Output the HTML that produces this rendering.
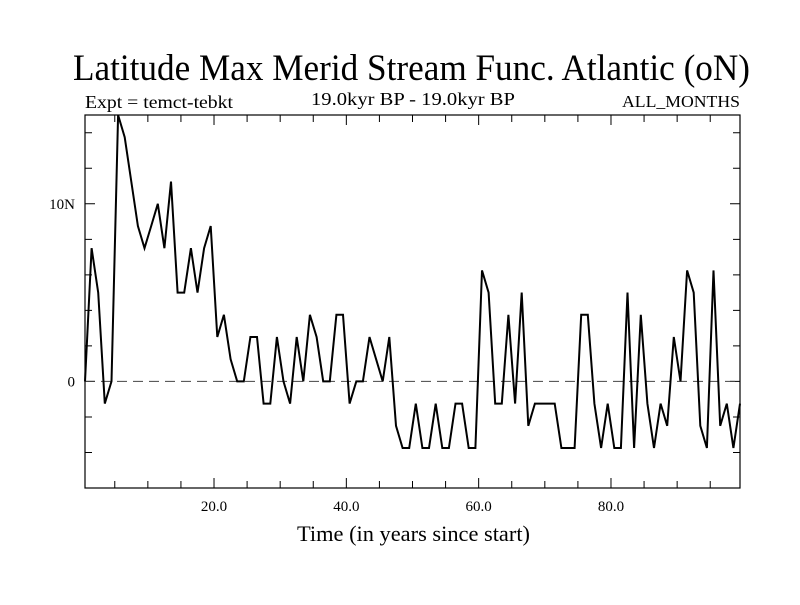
<!DOCTYPE html>
<html><head><meta charset="utf-8"><style>
body{margin:0;background:#fff}
svg text{font-family:"Liberation Serif",serif;fill:#000}
</style></head><body>
<svg id="chart" width="800" height="600" xmlns="http://www.w3.org/2000/svg">
<rect width="800" height="600" fill="#fff"/>
<text x="73" y="80" font-size="37" textLength="677" lengthAdjust="spacingAndGlyphs">Latitude Max Merid Stream Func. Atlantic (oN)</text>
<text x="85" y="108" font-size="18" textLength="148" lengthAdjust="spacingAndGlyphs">Expt = temct-tebkt</text>
<text x="311" y="105" font-size="18" textLength="204" lengthAdjust="spacingAndGlyphs">19.0kyr BP - 19.0kyr BP</text>
<text x="622" y="107" font-size="17" textLength="118" lengthAdjust="spacingAndGlyphs">ALL_MONTHS</text>
<text x="297" y="541" font-size="22" textLength="233" lengthAdjust="spacingAndGlyphs">Time (in years since start)</text>
<g id="axes"></g>
<g id="series"></g>
</svg>
<script>
const values = [0,7.5,5,-1.25,0,15,13.75,11.25,8.75,7.5,8.75,10,7.5,11.25,5,5,7.5,5,7.5,8.75,
2.5,3.75,1.25,0,0,2.5,2.5,-1.25,-1.25,2.5,0,-1.25,2.5,0,
3.75,2.5,0,0,3.75,3.75,-1.25,0,0,2.5,1.25,0,2.5,-2.5,-3.75,-3.75,-1.25,-3.75,-3.75,-1.25,-3.75,-3.75,-1.25,-1.25,-3.75,-3.75,6.25,5,-1.25,-1.25,3.75,-1.25,
5,-2.5,-1.25,-1.25,-1.25,-1.25,-3.75,-3.75,-3.75,3.75,3.75,-1.25,-3.75,-1.25,-3.75,-3.75,5,-3.75,3.75,-1.25,-3.75,-1.25,-2.5,2.5,0,6.25,5,-2.5,-3.75,6.25,-2.5,-1.25,-3.75,-1.25];
const xMajorTicks = [20,40,60,80];
const xMajorLabels = ["20.0","40.0","60.0","80.0"];
const yTicks = [-4,-2,0,2,4,6,8,10,12,14];
const yLabelValues = [0,10];
const yLabels = ["0","10N"];
const xDomain = [0.5,99.5], yDomain = [-6,15];
const L=85,R=740,T=115,B=488;
const xs = v => L + (v-xDomain[0])/(xDomain[1]-xDomain[0])*(R-L);
const ys = v => B - (v-yDomain[0])/(yDomain[1]-yDomain[0])*(B-T);
const NS="http://www.w3.org/2000/svg";
const axes=document.getElementById('axes'), series=document.getElementById('series');
function mk(tag,attrs,parent){const e=document.createElementNS(NS,tag);for(const k in attrs)e.setAttribute(k,attrs[k]);parent.appendChild(e);return e;}
const frame=mk('rect',{x:L,y:T,width:R-L,height:B-T,fill:'none',stroke:'#000','stroke-width':1.2},axes);


for(let t=5;t<100;t+=5){
  const major = xMajorTicks.includes(t);
  const len = major?10:7;
  const tk=mk('path',{d:`M${xs(t)},${B}V${B-len}M${xs(t)},${T}V${T+len}`,stroke:'#000','stroke-width':1},axes);
  
  
}
xMajorTicks.forEach((t,i)=>{
  const tx=mk('text',{x:xs(t),y:511,'font-size':15,'text-anchor':'middle'},axes);
  tx.textContent=xMajorLabels[i];
  
  
});
yTicks.forEach(v=>{
  const len = (v%10===0)?10:7;
  const tk=mk('path',{d:`M${L},${ys(v)}H${L+len}M${R},${ys(v)}H${R-len}`,stroke:'#000','stroke-width':1},axes);
  
  
});
yLabelValues.forEach((v,i)=>{
  const tx=mk('text',{x:75,y:ys(v)+5,'font-size':15,'text-anchor':'end'},axes);
  tx.textContent=yLabels[i];
  
  
});
const zl=mk('line',{x1:L,x2:R,y1:ys(0),y2:ys(0),stroke:'#444','stroke-width':1,'stroke-dasharray':'10,6'},series);


const d=values.map((v,i)=>(i?'L':'M')+xs(i+0.5).toFixed(1)+','+ys(v).toFixed(1)).join('');
const ln=mk('path',{d:d,fill:'none',stroke:'#000','stroke-width':2,'stroke-linejoin':'miter'},series);


</script>
</body></html>
